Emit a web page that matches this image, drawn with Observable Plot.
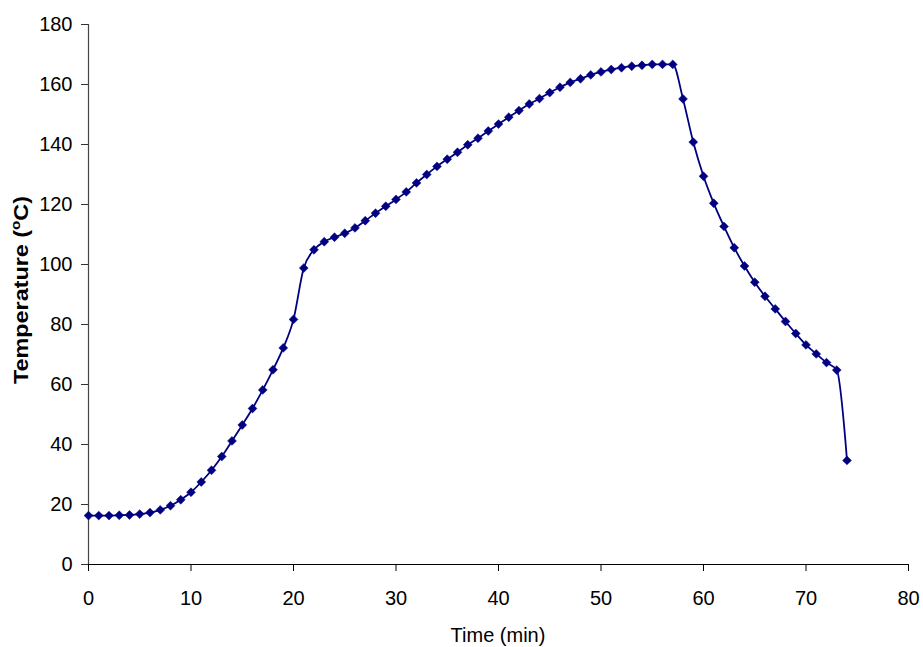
<!DOCTYPE html>
<html>
<head>
<meta charset="utf-8">
<script src="https://cdn.jsdelivr.net/npm/d3@7"></script>
<script src="https://cdn.jsdelivr.net/npm/@observablehq/plot@0.6"></script>
<style>
  html, body { margin: 0; padding: 0; background: #fff; }
  #chart { width: 923px; height: 647px; }
</style>
</head>
<body>
<div id="chart"></div>
<script>
const timeMin = [0,1,2,3,4,5,6,7,8,9,10,11,12,13,14,15,16,17,18,19,20,21,22,23,24,25,26,27,28,29,30,31,32,33,34,35,36,37,38,39,40,41,42,43,44,45,46,47,48,49,50,51,52,53,54,55,56,57,58,59,60,61,62,63,64,65,66,67,68,69,70,71,72,73,74];
const temperature = [16.3,16.3,16.3,16.4,16.5,16.8,17.3,18.2,19.6,21.6,24.1,27.5,31.4,36,41.2,46.5,52,58.2,64.9,72.2,81.7,98.8,104.9,107.6,109.1,110.4,112.2,114.6,117.1,119.4,121.7,124.2,127.2,130,132.7,135.1,137.4,139.9,142.1,144.5,146.8,149.1,151.3,153.5,155.3,157.3,159.1,160.7,161.9,163.2,164.2,165,165.6,166.1,166.4,166.7,166.7,166.7,155.2,140.8,129.4,120.4,112.7,105.6,99.5,94.1,89.4,85.2,81,77,73.2,70.2,67.3,64.8,34.7];
const xTicks = [0,10,20,30,40,50,60,70,80];
const yTicks = [0,20,40,60,80,100,120,140,160,180];
const xTitle = "Time (min)";
const yTitleParts = ["Temperature (", "o", "C)"];

const data = timeMin.map((t, i) => ({t, T: temperature[i]}));
const navy = "#000080";
const font = "'Liberation Sans', Arial, sans-serif";

const W = 923, H = 647;
const mL = 88, mR = 15, mT = 24, mB = 83;

const plot = Plot.plot({
  width: W,
  height: H,
  marginLeft: mL,
  marginRight: mR,
  marginTop: mT,
  marginBottom: mB,
  style: {fontFamily: font, fontSize: "20px", background: "#fff", color: "#000"},
  x: {domain: [0, 80], label: null},
  y: {domain: [0, 180], label: null},
  marks: [
    Plot.axisX({ticks: xTicks, tickSize: 7, tickPadding: 19, fontSize: 20, label: null, stroke: "#000", fill: "#000"}),
    Plot.axisY({ticks: yTicks, tickSize: 7, tickPadding: 9, fontSize: 20, label: null, stroke: "#333", fill: "#000"}),
    Plot.ruleY([0], {stroke: "#000", strokeWidth: 1.2}),
    Plot.ruleX([0], {stroke: "#444", strokeWidth: 1.2}),
    Plot.line(data, {x: "t", y: "T", stroke: navy, strokeWidth: 1.8, curve: "monotone-x"}),
    Plot.dot(data, {x: "t", y: "T", symbol: "diamond2", r: 4, fill: navy, stroke: navy, strokeWidth: 0.5})
  ]
});

const svg = d3.select(plot);
svg.append("text")
  .attr("x", mL + (W - mL - mR) / 2)
  .attr("y", 642)
  .attr("text-anchor", "middle")
  .style("font-size", "20px")
  .style("font-family", font)
  .attr("fill", "#000")
  .text(xTitle);

const yt = svg.append("text")
  .attr("transform", `translate(28, 290) rotate(-90)`)
  .attr("text-anchor", "middle")
  .style("font-size", "20px")
  .style("font-weight", "bold")
  .style("font-family", font)
  .attr("fill", "#000")
  .attr("textLength", 188)
  .attr("lengthAdjust", "spacingAndGlyphs");
yt.append("tspan").text(yTitleParts[0]);
yt.append("tspan").attr("dy", -8).style("font-size", "13px").text(yTitleParts[1]);
yt.append("tspan").attr("dy", 8).text(yTitleParts[2]);

document.getElementById("chart").appendChild(plot);
</script>
</body>
</html>
